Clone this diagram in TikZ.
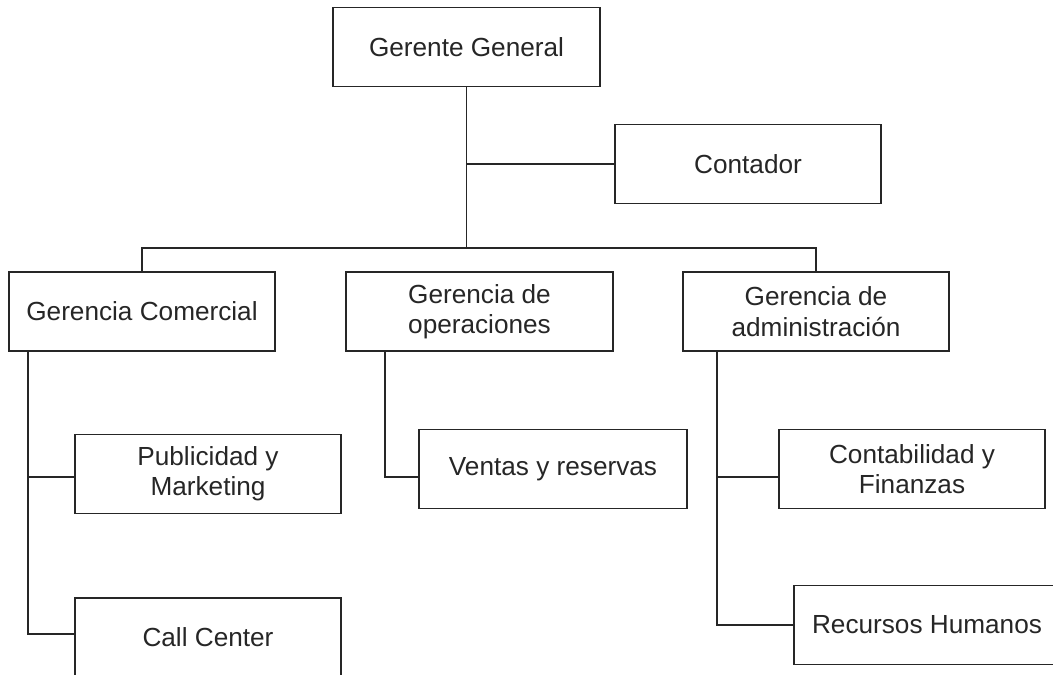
\documentclass[tikz,border=0pt]{standalone}
\usepackage{fontspec}
\setmainfont{Liberation Sans}
\usepackage{tikz}
\usepackage{xcolor}
\tikzset{caja/.style={draw=black!85, line width=1pt, minimum width=5.32cm,
   minimum height=1.58cm, align=center, inner sep=2pt, text=black!85,
   font=\fontsize{14.9}{17.3}\selectfont},
 linea/.style={draw=black!85, line width=1pt},
 }

\begin{document}
\begin{tikzpicture}[x=0.02cm, y=-0.02cm]
        \useasboundingbox (0, 0) rectangle (1053, 675);

        \node[caja, minimum width=5.34cm] (gg) at (466.5, 47) {Gerente General};
        \node[caja] (cont) at (748, 164) {Contador};

        \node[caja] (gcom) at (142, 311.5) {Gerencia Comercial};
        \node[caja, minimum width=5.34cm] (gope) at (479.5, 311.5) {Gerencia de\\operaciones};
        \node[caja] (gadm) at (816, 311.5) {Gerencia de\\administración};

        \node[caja] (pub) at (208, 474) {Publicidad y\\Marketing};
        \node[caja] (call) at (208, 637.5) {Call Center};
        \node[caja, minimum width=5.36cm] (vent) at (553, 469) {Ventas y reservas};
        \node[caja] (conta) at (912, 469) {Contabilidad y\\Finanzas};
        \node[caja] (rrhh) at (927, 625) {Recursos Humanos};

        \coordinate (bus) at (466.5, 248);
        \coordinate (cspine) at (28, 351);
        \coordinate (ospine) at (385, 351);
        \coordinate (aspine) at (717, 351);

        % nivel superior
        \draw[linea] (gg.south) -- (bus);
        \draw[linea] (gg.south |- cont.west) -- (cont.west);
        \draw[linea] (gcom.north) |- (bus) -| (gadm.north);

        % ramas
        \draw[linea] (cspine) |- ([yshift=0.07cm]call.west);
        \draw[linea] ([yshift=-0.06cm]pub.west) -| (cspine);
        \draw[linea] (ospine) |- ([yshift=-0.16cm]vent.west);
        \draw[linea] (aspine) |- (rrhh.west);
        \draw[linea] ([yshift=-0.16cm]conta.west) -| (aspine);
    \end{tikzpicture}
\end{document}
